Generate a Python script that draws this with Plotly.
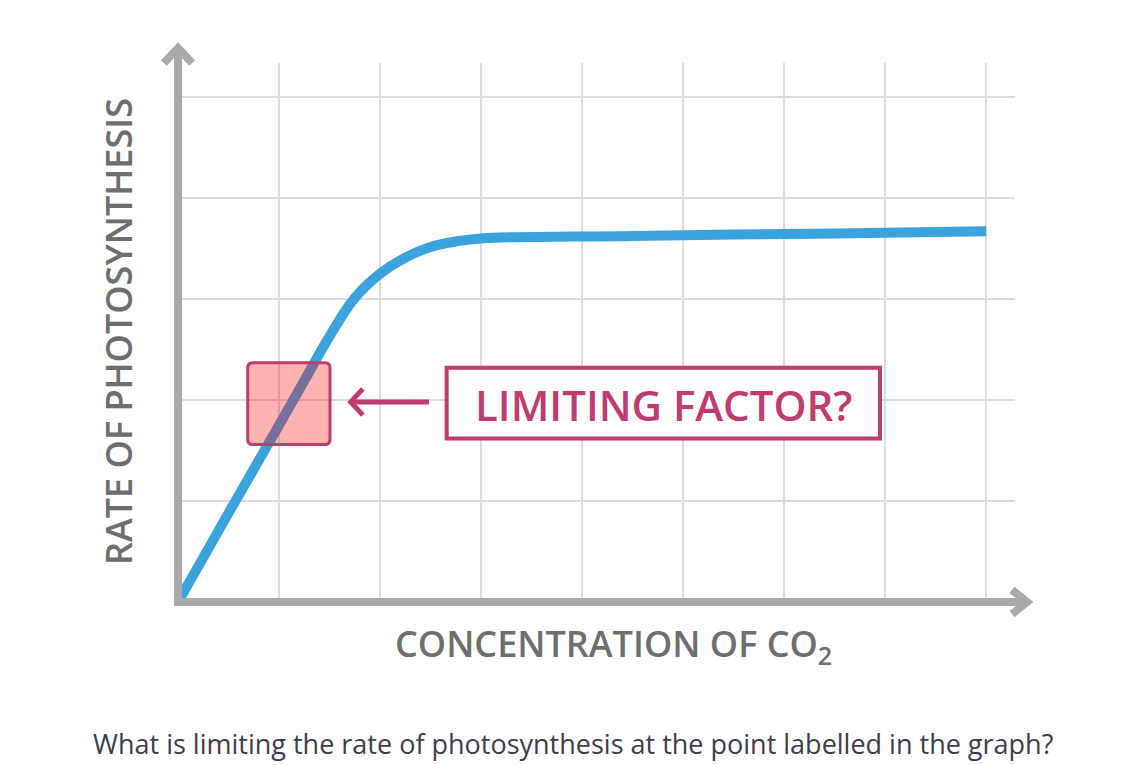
import plotly.graph_objects as go

# ---- data (grid units) ----
co2 = [0.0, 0.5, 1.0, 1.25, 1.5, 1.75, 2.0, 2.25, 2.5, 2.75, 3.0, 4.5, 6.5, 8.0]
rate = [0.0, 0.88, 1.75, 2.19, 2.63, 3.01, 3.25, 3.41, 3.515, 3.57, 3.60, 3.625, 3.65, 3.67]

x_title = "CONCENTRATION OF CO<sub>2</sub>"
y_title = "RATE OF PHOTOSYNTHESIS"
label_text = "LIMITING FACTOR?"
question = "What is limiting the rate of photosynthesis at the point labelled in the graph?"

X_MAX = 8.287
Y_MAX = 5.337

AXIS_COL = "#a9a9a9"
GRID_COL = "#dcdcdc"
BLUE = "#3aa3de"
MAGENTA = "#c03b6f"
TEXT_GRAY = "#6e6e6e"

fig = go.Figure()
fig.add_trace(go.Scatter(
    x=co2, y=rate, mode="lines",
    line=dict(color=BLUE, width=10, shape="spline", smoothing=1.1),
    hoverinfo="skip", showlegend=False,
))


def px(x):
    return x / X_MAX


def py(y):
    return y / Y_MAX


shapes = []
# axes with arrow heads (paper refs so they are not clipped)
shapes.append(dict(type="line", xref="paper", yref="paper",
                   x0=px(0), y0=py(-0.04), x1=px(0), y1=py(5.47),
                   line=dict(color=AXIS_COL, width=8)))
shapes.append(dict(type="path", xref="paper", yref="paper",
                   path=f"M {px(-0.14)} {py(5.337)} L {px(0)} {py(5.485)} L {px(0.14)} {py(5.337)}",
                   line=dict(color=AXIS_COL, width=8)))
shapes.append(dict(type="line", xref="paper", yref="paper",
                   x0=px(-0.04), y0=py(0), x1=px(8.39), y1=py(0),
                   line=dict(color=AXIS_COL, width=8)))
shapes.append(dict(type="path", xref="paper", yref="paper",
                   path=f"M {px(8.257)} {py(0.12)} L {px(8.406)} {py(0)} L {px(8.257)} {py(-0.12)}",
                   line=dict(color=AXIS_COL, width=8)))

# highlighted square on the curve
bx0, bx1, by0, by1, r = 0.69, 1.505, 1.56, 2.37, 0.05
shapes.append(dict(
    type="path", xref="x", yref="y",
    path=(f"M {bx0+r} {by0} L {bx1-r} {by0} Q {bx1} {by0} {bx1} {by0+r} "
          f"L {bx1} {by1-r} Q {bx1} {by1} {bx1-r} {by1} L {bx0+r} {by1} "
          f"Q {bx0} {by1} {bx0} {by1-r} L {bx0} {by0+r} Q {bx0} {by0} {bx0+r} {by0} Z"),
    fillcolor="rgba(255,0,0,0.3)", line=dict(color=MAGENTA, width=3), layer="above"))

# arrow pointing at the square
shapes.append(dict(type="line", xref="x", yref="y", x0=2.485, y0=1.98, x1=1.72, y1=1.98,
                   line=dict(color=MAGENTA, width=5)))
shapes.append(dict(type="path", xref="x", yref="y",
                   path="M 1.83 2.11 L 1.71 1.98 L 1.83 1.85",
                   line=dict(color=MAGENTA, width=5)))

# label box
shapes.append(dict(type="rect", xref="x", yref="y", x0=2.66, x1=6.95, y0=1.62, y1=2.32,
                   fillcolor="white", line=dict(color=MAGENTA, width=4), layer="above"))

annotations = [
    dict(x=4.805, y=1.96, xref="x", yref="y", text=label_text, showarrow=False,
         font=dict(family="Open Sans", size=42, color=MAGENTA, weight=600),
         xanchor="center", yanchor="middle"),
    dict(x=(613 - 178) / 101 / X_MAX, y=-0.43 / Y_MAX, xref="paper", yref="paper", text=x_title,
         showarrow=False, font=dict(family="Open Sans", size=36, color=TEXT_GRAY, weight=600),
         xanchor="center", yanchor="middle"),
    dict(x=(118 - 178) / 101 / X_MAX, y=(602 - 331) / 101 / Y_MAX, xref="paper", yref="paper",
         text=y_title, textangle=-90, showarrow=False,
         font=dict(family="Open Sans", size=36, color=TEXT_GRAY, weight=600),
         xanchor="center", yanchor="middle"),
    dict(x=(573 - 178) / 101 / X_MAX, y=(602 - 744) / 101 / Y_MAX, xref="paper", yref="paper",
         text=question, showarrow=False,
         font=dict(family="Open Sans", size=27, color="#3d3d4d"),
         xanchor="center", yanchor="middle"),
]

fig.update_layout(
    width=1126, height=765,
    margin=dict(l=178, r=111, t=63, b=163),
    paper_bgcolor="white", plot_bgcolor="white",
    showlegend=False,
    shapes=shapes,
    annotations=annotations,
    xaxis=dict(range=[0, X_MAX], dtick=1, tick0=0, showgrid=True, gridcolor=GRID_COL,
               gridwidth=2, zeroline=False, showline=False, showticklabels=False, ticks="",
               fixedrange=True),
    yaxis=dict(range=[0, Y_MAX], dtick=1, tick0=0, showgrid=True, gridcolor=GRID_COL,
               gridwidth=2, zeroline=False, showline=False, showticklabels=False, ticks="",
               fixedrange=True),
)

fig.write_html("out.html", config={"displayModeBar": False},
               post_script="document.body.style.margin='0px';document.body.style.overflow='hidden';")
